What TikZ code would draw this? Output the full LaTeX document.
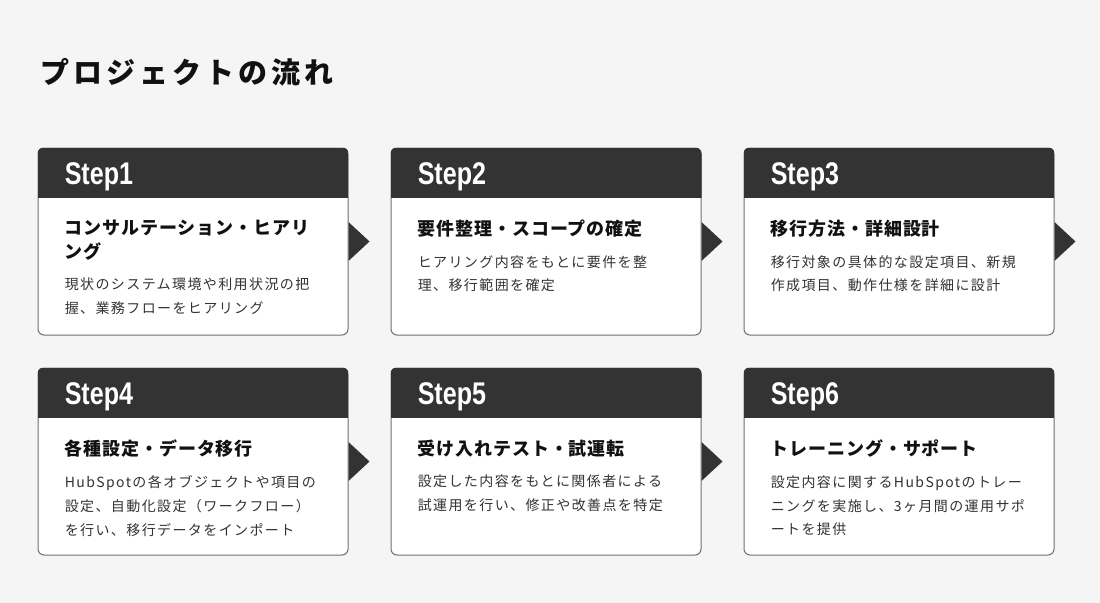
\documentclass[tikz,border=0pt]{standalone}
\usepackage{fontspec}
\setmainfont{Noto Sans CJK JP}
\newfontfamily\stepfont{Liberation Sans}[FakeStretch=0.8]
\usetikzlibrary{positioning}
\definecolor{pagebg}{HTML}{F5F5F5}
\definecolor{headfill}{HTML}{333333}
\definecolor{cardline}{HTML}{707070}
\definecolor{titleink}{HTML}{111111}
\definecolor{bodyink}{HTML}{333333}

\begin{document}
\begin{tikzpicture}[x=0.75pt, y=-0.75pt, node distance=24pt and 31.5pt,
    card/.style={draw=cardline, line width=0.75pt, fill=white, rounded corners=4.5pt,
      minimum width=232.5pt, minimum height=140.25pt, inner sep=0pt},
    steplabel/.style={anchor=base west, inner sep=0pt, text=white,
      font=\stepfont\bfseries\fontsize{23.5pt}{28pt}\selectfont},
    cardtitle/.style={anchor=north west, inner sep=0pt, align=left, text=titleink,
      font=\bfseries\fontsize{13.5pt}{17.6pt}\selectfont\addfontfeature{LetterSpace=5}},
    cardtext/.style={anchor=north west, inner sep=0pt, align=left, text=bodyink,
      font=\fontsize{10.5pt}{17.8pt}\selectfont\addfontfeature{LetterSpace=10}}]
    \fill[pagebg] (0,0) rectangle (1100,603);
    \useasboundingbox (0,0) rectangle (1100,603);

    \node[anchor=west, inner sep=0pt, text=titleink,
          font=\bfseries\fontsize{21.75pt}{26pt}\selectfont\addfontfeature{LetterSpace=14}]
          (title) at (40,72) {プロジェクトの流れ};

    % cards
    \node[card] (c1) at (193,241.5) {};
    \node[card, right=of c1] (c2) {};
    \node[card, right=of c2] (c3) {};
    \node[card, below=of c1] (c4) {};
    \node[card, right=of c4] (c5) {};
    \node[card, right=of c5] (c6) {};

    % dark header strip and arrow heads
    \foreach \c in {c1,c2,c3,c4,c5,c6} {
      \begin{scope}
        \clip[rounded corners=4.5pt] (\c.north west) rectangle (\c.south east);
        \fill[headfill] (\c.north west) rectangle ([yshift=-37.5pt]\c.north east);
      \end{scope}
    }
    \foreach \c in {c1,c2,c3,c4,c5}
      \fill[headfill] ([yshift=14.6pt]\c.east) -- ([xshift=15.75pt]\c.east)
        -- ([yshift=-14.6pt]\c.east) -- cycle;

    \node[steplabel] (s1) at ([xshift=20.25pt, yshift=-27.75pt]c1.north west) {Step1};
    \node[steplabel] (s2) at ([xshift=20.25pt, yshift=-27.75pt]c2.north west) {Step2};
    \node[steplabel] (s3) at ([xshift=20.25pt, yshift=-27.75pt]c3.north west) {Step3};
    \node[steplabel] (s4) at ([xshift=20.25pt, yshift=-27.75pt]c4.north west) {Step4};
    \node[steplabel] (s5) at ([xshift=20.25pt, yshift=-27.75pt]c5.north west) {Step5};
    \node[steplabel] (s6) at ([xshift=20.25pt, yshift=-27.75pt]c6.north west) {Step6};

    \node[cardtitle] (t1) at ([xshift=20.25pt, yshift=-54.25pt]c1.north west) {コンサルテーション・ヒアリ\\ング};
    \node[cardtitle] (t2) at ([xshift=20.25pt, yshift=-54.25pt]c2.north west) {要件整理・スコープの確定};
    \node[cardtitle] (t3) at ([xshift=20.25pt, yshift=-54.25pt]c3.north west) {移行方法・詳細設計};
    \node[cardtitle] (t4) at ([xshift=20.25pt, yshift=-54.25pt]c4.north west) {各種設定・データ移行};
    \node[cardtitle] (t5) at ([xshift=20.25pt, yshift=-54.25pt]c5.north west) {受け入れテスト・試運転};
    \node[cardtitle] (t6) at ([xshift=20.25pt, yshift=-54.25pt]c6.north west) {トレーニング・サポート};

    \node[cardtext] (b1) at ([yshift=-13pt]t1.south west) {現状のシステム環境や利用状況の把\\握、業務フローをヒアリング};
    \node[cardtext] (b2) at ([yshift=-13pt]t2.south west) {ヒアリング内容をもとに要件を整\\理、移行範囲を確定};
    \node[cardtext] (b3) at ([yshift=-13pt]t3.south west) {移行対象の具体的な設定項目、新規\\作成項目、動作仕様を詳細に設計};
    \node[cardtext] (b4) at ([yshift=-13pt]t4.south west) {HubSpotの各オブジェクトや項目の\\設定、自動化設定（ワークフロー）\\を行い、移行データをインポート};
    \node[cardtext] (b5) at ([yshift=-13pt]t5.south west) {設定した内容をもとに関係者による\\試運用を行い、修正や改善点を特定};
    \node[cardtext] (b6) at ([yshift=-13pt]t6.south west) {設定内容に関するHubSpotのトレー\\ニングを実施し、3ヶ月間の運用サポ\\ートを提供};
\end{tikzpicture}
\end{document}
